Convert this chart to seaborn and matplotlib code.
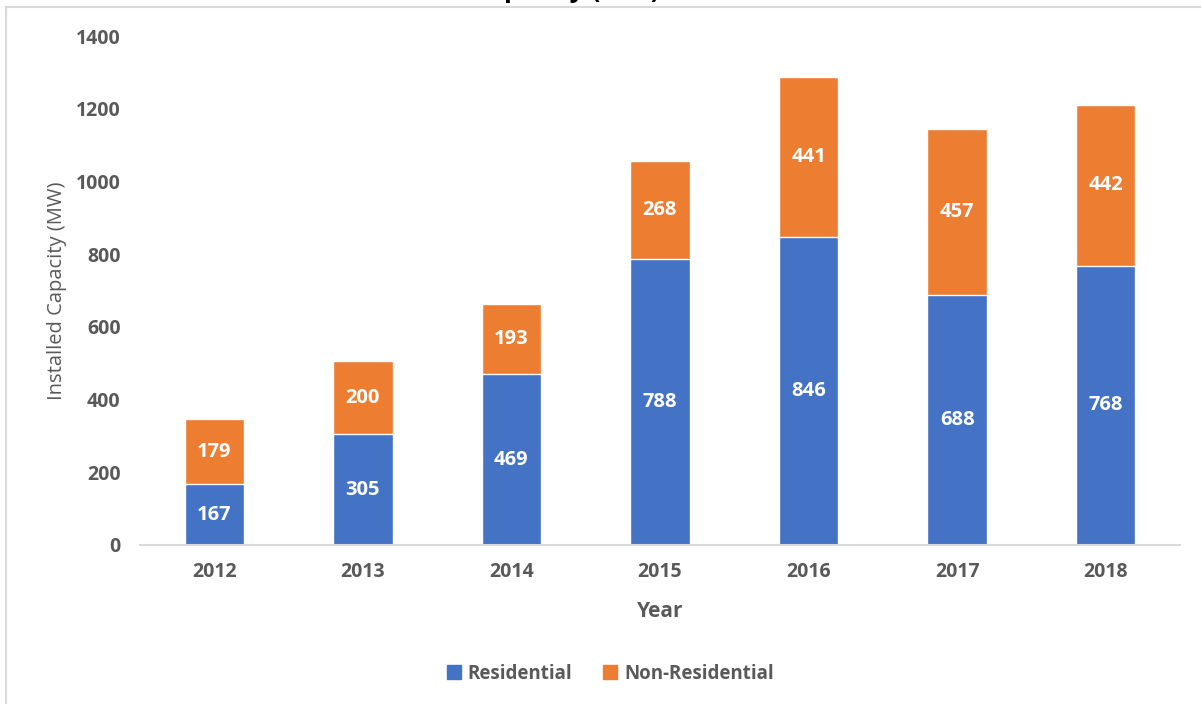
import matplotlib
matplotlib.use("Agg")
import matplotlib.pyplot as plt
from matplotlib.patches import Rectangle
from matplotlib.lines import Line2D
import pandas as pd
import seaborn as sns

# data
years = ["2012", "2013", "2014", "2015", "2016", "2017", "2018"]
residential = [167, 305, 469, 788, 846, 688, 768]
non_residential = [179, 200, 193, 268, 441, 457, 442]

BLUE = "#4472C4"
ORANGE = "#ED7D31"
GREY = "#595959"

df = pd.DataFrame({"Year": years, "Residential": residential, "Non-Residential": non_residential})
df["Total"] = df["Residential"] + df["Non-Residential"]

sns.set_theme(style="white")
plt.rcParams["font.family"] = ["Open Sans", "DejaVu Sans"]

fig = plt.figure(figsize=(12.01, 7.04), dpi=100)
ax = fig.add_axes([140 / 1201, 1 - 545 / 704, 1040 / 1201, (545 - 36) / 704])

# stacked bars: total in orange, residential drawn on top in blue
sns.barplot(data=df, x="Year", y="Total", color=ORANGE, width=0.4, saturation=1, ax=ax)
sns.barplot(data=df, x="Year", y="Residential", color=BLUE, width=0.4, saturation=1, ax=ax)

for i, (r, n) in enumerate(zip(df["Residential"], df["Non-Residential"])):
    ax.text(i, r / 2, str(r), ha="center", va="center", color="white",
            fontsize=14.5, fontweight="bold")
    ax.text(i, r + n / 2, str(n), ha="center", va="center", color="white",
            fontsize=14.5, fontweight="bold")

ax.set_xlim(-0.5, 6.5)
ax.set_ylim(0, 1400)
ax.set_yticks(range(0, 1401, 200))
ax.tick_params(axis="both", length=0, labelsize=14, labelcolor=GREY)
ax.tick_params(axis="x", pad=12)
ax.tick_params(axis="y", pad=14)
for lab in ax.get_xticklabels() + ax.get_yticklabels():
    lab.set_fontweight("bold")
ax.set_xlabel("Year", fontsize=15, fontweight="bold", color=GREY, labelpad=14)
ax.set_ylabel("Installed Capacity (MW)", fontsize=14.5, color=GREY, labelpad=6)

for side in ["top", "right", "left"]:
    ax.spines[side].set_visible(False)
ax.spines["bottom"].set_color("#d9d9d9")
ax.spines["bottom"].set_linewidth(1.5)

# legend below the plot
handles = [Line2D([], [], marker="s", linestyle="", markersize=10, color=BLUE),
           Line2D([], [], marker="s", linestyle="", markersize=10, color=ORANGE)]
leg = fig.legend(handles, ["Residential", "Non-Residential"], loc="center",
                 bbox_to_anchor=(610 / 1201, 1 - 674 / 704), ncol=2, frameon=False,
                 prop={"size": 13.5, "weight": "bold"},
                 handlelength=0.8, handletextpad=0.35, columnspacing=1.6)
for t in leg.get_texts():
    t.set_color(GREY)

# title mostly cut off at top edge, as in the reference
fig.text(660 / 1201, 1.004, "Installed Capacity (MW)", ha="right", va="baseline",
         fontsize=19, fontweight="bold", color="black")

# chart-area border
fig.add_artist(Rectangle((6 / 1201, -0.05), 1.2, (704 - 7) / 704 + 0.05, fill=False,
                         edgecolor="#d9d9d9", linewidth=1.5, transform=fig.transFigure))

fig.savefig("out.png", dpi=100)
